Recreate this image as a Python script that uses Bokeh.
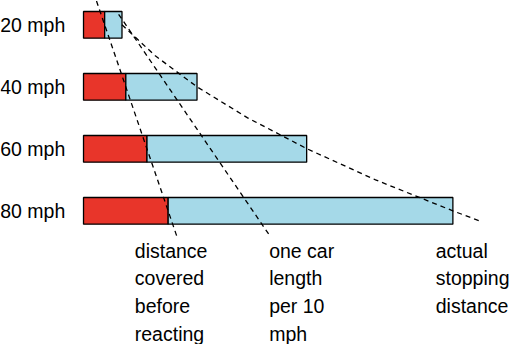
from bokeh.plotting import figure
from bokeh.models import Range1d
from bokeh.embed import file_html
from bokeh.resources import INLINE
from bokeh.core.properties import value

# ---- data (distance units arbitrary, ~feet) ----
speeds = [20, 40, 60, 80]
speed_labels = ["20 mph", "40 mph", "60 mph", "80 mph"]
thinking = [22, 44, 66, 88]          # distance covered before reacting
braking = [18, 74, 166, 296]         # braking distance

# dashed guide lines (speed, distance)
reaction_speed = [12.3, 88.3]
reaction_dist = [13.5, 97.1]
carlen_speed = [16.6, 87.5]
carlen_dist = [36.5, 192.5]
stop_speed = [20, 30, 40, 50, 60, 70, 80, 83.5]
stop_dist = [40, 74.6, 118, 170.6, 232.5, 303.6, 384, 414]

note_reacting = ["distance", "covered", "before", "reacting"]
note_carlen = ["one car", "length", "per 10", "mph"]
note_stopping = ["actual", "stopping", "distance"]

totals = [t + b for t, b in zip(thinking, braking)]

# ---- layout / style ----
FONT = value("Liberation Sans")
FSIZE = value("19.5px")
RED = "#e8352a"
BLUE = "#a5d9e8"

p = figure(width=510, height=344,
           x_range=Range1d(-86.3, 443.9), y_range=Range1d(123.1, 12.16),
           output_backend="svg", toolbar_location=None,
           x_axis_location=None, y_axis_location=None, min_border=0)
p.xgrid.visible = False
p.ygrid.visible = False
p.outline_line_color = None
p.background_fill_color = "white"
p.border_fill_color = "white"

bar_h = 8.6
p.hbar(y=speeds, left=0, right=thinking, height=bar_h,
       fill_color=RED, line_color="black", line_width=1.3)
p.hbar(y=speeds, left=thinking, right=totals, height=bar_h,
       fill_color=BLUE, line_color="black", line_width=1.3)

for xs, ys in [(reaction_dist, reaction_speed), (carlen_dist, carlen_speed),
               (stop_dist, stop_speed)]:
    p.line(xs, ys, line_color="black", line_width=1.3, line_dash="5 4")

p.text(x=[-19] * len(speeds), y=speeds, text=speed_labels,
       text_align="right", text_baseline="alphabetic",
       y_offset=0, text_font=FONT, text_font_size=FSIZE, text_color="black")

note_base_y = 95.06
note_step = 8.94
note_xs = [53.3, 193.0, 366.2]
for nx, lines in zip(note_xs, [note_reacting, note_carlen, note_stopping]):
    p.text(x=[nx] * len(lines),
           y=[note_base_y + i * note_step for i in range(len(lines))],
           text=lines, text_align="left", text_baseline="alphabetic",
           y_offset=-7, text_font=FONT, text_font_size=FSIZE,
           text_color="black")

open("out.html", "w").write(file_html(p, INLINE))
